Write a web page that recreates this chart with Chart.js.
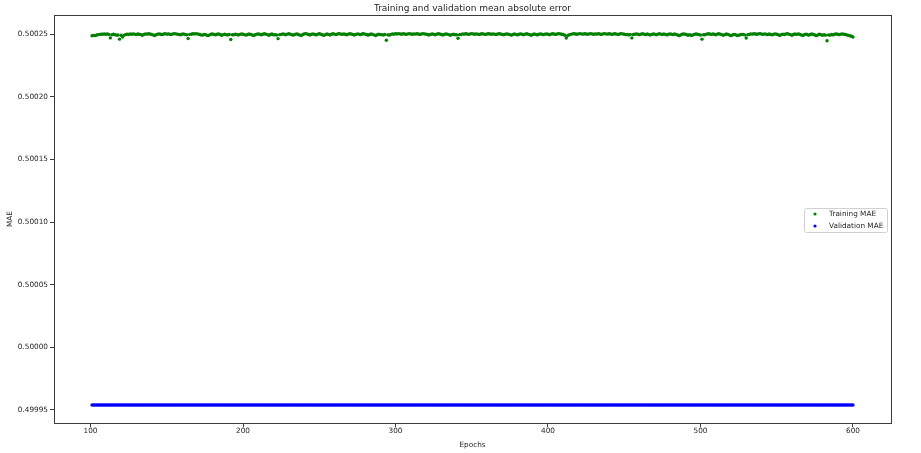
<!DOCTYPE html>
<html>
<head>
<meta charset="utf-8">
<script src="https://cdn.jsdelivr.net/npm/chart.js@4.4.0/dist/chart.umd.min.js"></script>
<style>
  html, body { margin: 0; padding: 0; background: #fff; }
  #wrap { width: 921px; height: 453px; position: relative; }
</style>
</head>
<body>
<div id="wrap"><canvas id="maeChart"></canvas></div>
<script>
// ---- data ----
const firstEpoch = 101;

const trainMae = [
  0.5002488, 0.5002491, 0.5002489, 0.5002494, 0.5002497, 0.5002499, 0.5002501, 0.5002500, 0.5002502, 0.5002500,
  0.5002503, 0.5002498, 0.5002471, 0.5002496, 0.5002500, 0.5002497, 0.5002493, 0.5002494, 0.5002461, 0.5002492,
  0.5002478, 0.5002493, 0.5002497, 0.5002501, 0.5002499, 0.5002502, 0.5002500, 0.5002503, 0.5002501, 0.5002498,
  0.5002502, 0.5002500, 0.5002497, 0.5002492, 0.5002499, 0.5002503, 0.5002501, 0.5002504, 0.5002502, 0.5002499,
  0.5002495, 0.5002490, 0.5002496, 0.5002501, 0.5002503, 0.5002500, 0.5002497, 0.5002502, 0.5002504, 0.5002501,
  0.5002503, 0.5002500, 0.5002498, 0.5002502, 0.5002505, 0.5002503, 0.5002501, 0.5002499, 0.5002496, 0.5002500,
  0.5002503, 0.5002498, 0.5002496, 0.5002466, 0.5002499, 0.5002500, 0.5002504, 0.5002502, 0.5002505, 0.5002503,
  0.5002500, 0.5002497, 0.5002493, 0.5002496, 0.5002499, 0.5002494, 0.5002489, 0.5002495, 0.5002500, 0.5002502,
  0.5002499, 0.5002495, 0.5002500, 0.5002503, 0.5002498, 0.5002492, 0.5002497, 0.5002501, 0.5002496, 0.5002495,
  0.5002498, 0.5002458, 0.5002496, 0.5002496, 0.5002501, 0.5002498, 0.5002494, 0.5002499, 0.5002503, 0.5002500,
  0.5002497, 0.5002493, 0.5002498, 0.5002502, 0.5002499, 0.5002494, 0.5002490, 0.5002496, 0.5002501, 0.5002503,
  0.5002500, 0.5002495, 0.5002500, 0.5002504, 0.5002501, 0.5002497, 0.5002492, 0.5002498, 0.5002502, 0.5002495,
  0.5002497, 0.5002494, 0.5002465, 0.5002497, 0.5002498, 0.5002503, 0.5002500, 0.5002496, 0.5002501, 0.5002504,
  0.5002501, 0.5002497, 0.5002493, 0.5002499, 0.5002503, 0.5002500, 0.5002495, 0.5002490, 0.5002496, 0.5002502,
  0.5002505, 0.5002502, 0.5002498, 0.5002494, 0.5002500, 0.5002503, 0.5002499, 0.5002495, 0.5002501, 0.5002504,
  0.5002500, 0.5002496, 0.5002491, 0.5002497, 0.5002502, 0.5002499, 0.5002494, 0.5002500, 0.5002504, 0.5002501,
  0.5002497, 0.5002502, 0.5002505, 0.5002502, 0.5002499, 0.5002503, 0.5002500, 0.5002496, 0.5002501, 0.5002504,
  0.5002502, 0.5002498, 0.5002494, 0.5002499, 0.5002503, 0.5002501, 0.5002497, 0.5002502, 0.5002504, 0.5002501,
  0.5002498, 0.5002493, 0.5002498, 0.5002502, 0.5002499, 0.5002495, 0.5002490, 0.5002496, 0.5002501, 0.5002497,
  0.5002497, 0.5002494, 0.5002498, 0.5002452, 0.5002496, 0.5002493, 0.5002499, 0.5002503, 0.5002501, 0.5002504,
  0.5002502, 0.5002505, 0.5002503, 0.5002500, 0.5002504, 0.5002502, 0.5002499, 0.5002503, 0.5002505, 0.5002502,
  0.5002500, 0.5002503, 0.5002501, 0.5002504, 0.5002502, 0.5002499, 0.5002502, 0.5002505, 0.5002503, 0.5002501,
  0.5002498, 0.5002494, 0.5002499, 0.5002503, 0.5002500, 0.5002496, 0.5002501, 0.5002504, 0.5002502, 0.5002498,
  0.5002494, 0.5002499, 0.5002503, 0.5002501, 0.5002497, 0.5002492, 0.5002497, 0.5002501, 0.5002496, 0.5002496,
  0.5002468, 0.5002497, 0.5002498, 0.5002503, 0.5002501, 0.5002504, 0.5002502, 0.5002499, 0.5002503, 0.5002505,
  0.5002502, 0.5002500, 0.5002503, 0.5002501, 0.5002498, 0.5002502, 0.5002504, 0.5002501, 0.5002499, 0.5002502,
  0.5002504, 0.5002502, 0.5002500, 0.5002503, 0.5002501, 0.5002498, 0.5002502, 0.5002504, 0.5002502, 0.5002499,
  0.5002496, 0.5002500, 0.5002503, 0.5002501, 0.5002497, 0.5002493, 0.5002498, 0.5002502, 0.5002499, 0.5002495,
  0.5002500, 0.5002503, 0.5002500, 0.5002496, 0.5002501, 0.5002504, 0.5002501, 0.5002497, 0.5002492, 0.5002498,
  0.5002502, 0.5002499, 0.5002495, 0.5002500, 0.5002503, 0.5002500, 0.5002497, 0.5002501, 0.5002503, 0.5002500,
  0.5002496, 0.5002501, 0.5002504, 0.5002502, 0.5002499, 0.5002502, 0.5002505, 0.5002503, 0.5002500, 0.5002499,
  0.5002492, 0.5002470, 0.5002490, 0.5002497, 0.5002499, 0.5002503, 0.5002505, 0.5002502, 0.5002500, 0.5002503,
  0.5002505, 0.5002503, 0.5002501, 0.5002504, 0.5002502, 0.5002500, 0.5002503, 0.5002505, 0.5002502, 0.5002500,
  0.5002503, 0.5002501, 0.5002504, 0.5002502, 0.5002499, 0.5002503, 0.5002505, 0.5002503, 0.5002501, 0.5002504,
  0.5002502, 0.5002499, 0.5002502, 0.5002504, 0.5002501, 0.5002498, 0.5002502, 0.5002505, 0.5002503, 0.5002500,
  0.5002497, 0.5002498, 0.5002495, 0.5002499, 0.5002471, 0.5002498, 0.5002500, 0.5002503, 0.5002500, 0.5002497,
  0.5002501, 0.5002504, 0.5002501, 0.5002497, 0.5002502, 0.5002499, 0.5002494, 0.5002499, 0.5002503, 0.5002500,
  0.5002496, 0.5002501, 0.5002504, 0.5002501, 0.5002498, 0.5002502, 0.5002499, 0.5002495, 0.5002500, 0.5002503,
  0.5002500, 0.5002497, 0.5002502, 0.5002499, 0.5002494, 0.5002489, 0.5002495, 0.5002500, 0.5002503, 0.5002500,
  0.5002496, 0.5002492, 0.5002497, 0.5002490, 0.5002494, 0.5002499, 0.5002503, 0.5002500, 0.5002497, 0.5002494,
  0.5002461, 0.5002496, 0.5002496, 0.5002501, 0.5002504, 0.5002502, 0.5002499, 0.5002503, 0.5002500, 0.5002496,
  0.5002501, 0.5002504, 0.5002501, 0.5002497, 0.5002492, 0.5002497, 0.5002502, 0.5002499, 0.5002494, 0.5002489,
  0.5002494, 0.5002499, 0.5002496, 0.5002490, 0.5002492, 0.5002496, 0.5002499, 0.5002499, 0.5002495, 0.5002470,
  0.5002497, 0.5002498, 0.5002503, 0.5002501, 0.5002504, 0.5002502, 0.5002500, 0.5002503, 0.5002505, 0.5002502,
  0.5002499, 0.5002503, 0.5002501, 0.5002497, 0.5002502, 0.5002499, 0.5002495, 0.5002500, 0.5002503, 0.5002500,
  0.5002496, 0.5002491, 0.5002497, 0.5002501, 0.5002498, 0.5002502, 0.5002504, 0.5002501, 0.5002497, 0.5002492,
  0.5002498, 0.5002502, 0.5002499, 0.5002503, 0.5002500, 0.5002495, 0.5002490, 0.5002496, 0.5002501, 0.5002498,
  0.5002493, 0.5002498, 0.5002502, 0.5002499, 0.5002494, 0.5002489, 0.5002495, 0.5002500, 0.5002497, 0.5002492,
  0.5002496, 0.5002493, 0.5002448, 0.5002495, 0.5002493, 0.5002498, 0.5002495, 0.5002500, 0.5002503, 0.5002500,
  0.5002497, 0.5002501, 0.5002503, 0.5002500, 0.5002498, 0.5002495, 0.5002491, 0.5002488, 0.5002484, 0.5002478
];

// validation MAE sits flat the whole run (epochs 101-600)
const valMae = [
  // 101-200
  0.499954, 0.499954, 0.499954, 0.499954, 0.499954, 0.499954, 0.499954, 0.499954, 0.499954, 0.499954,
  0.499954, 0.499954, 0.499954, 0.499954, 0.499954, 0.499954, 0.499954, 0.499954, 0.499954, 0.499954,
  0.499954, 0.499954, 0.499954, 0.499954, 0.499954, 0.499954, 0.499954, 0.499954, 0.499954, 0.499954,
  0.499954, 0.499954, 0.499954, 0.499954, 0.499954, 0.499954, 0.499954, 0.499954, 0.499954, 0.499954,
  0.499954, 0.499954, 0.499954, 0.499954, 0.499954, 0.499954, 0.499954, 0.499954, 0.499954, 0.499954,
  0.499954, 0.499954, 0.499954, 0.499954, 0.499954, 0.499954, 0.499954, 0.499954, 0.499954, 0.499954,
  0.499954, 0.499954, 0.499954, 0.499954, 0.499954, 0.499954, 0.499954, 0.499954, 0.499954, 0.499954,
  0.499954, 0.499954, 0.499954, 0.499954, 0.499954, 0.499954, 0.499954, 0.499954, 0.499954, 0.499954,
  0.499954, 0.499954, 0.499954, 0.499954, 0.499954, 0.499954, 0.499954, 0.499954, 0.499954, 0.499954,
  0.499954, 0.499954, 0.499954, 0.499954, 0.499954, 0.499954, 0.499954, 0.499954, 0.499954, 0.499954,
  // 201-300
  0.499954, 0.499954, 0.499954, 0.499954, 0.499954, 0.499954, 0.499954, 0.499954, 0.499954, 0.499954,
  0.499954, 0.499954, 0.499954, 0.499954, 0.499954, 0.499954, 0.499954, 0.499954, 0.499954, 0.499954,
  0.499954, 0.499954, 0.499954, 0.499954, 0.499954, 0.499954, 0.499954, 0.499954, 0.499954, 0.499954,
  0.499954, 0.499954, 0.499954, 0.499954, 0.499954, 0.499954, 0.499954, 0.499954, 0.499954, 0.499954,
  0.499954, 0.499954, 0.499954, 0.499954, 0.499954, 0.499954, 0.499954, 0.499954, 0.499954, 0.499954,
  0.499954, 0.499954, 0.499954, 0.499954, 0.499954, 0.499954, 0.499954, 0.499954, 0.499954, 0.499954,
  0.499954, 0.499954, 0.499954, 0.499954, 0.499954, 0.499954, 0.499954, 0.499954, 0.499954, 0.499954,
  0.499954, 0.499954, 0.499954, 0.499954, 0.499954, 0.499954, 0.499954, 0.499954, 0.499954, 0.499954,
  0.499954, 0.499954, 0.499954, 0.499954, 0.499954, 0.499954, 0.499954, 0.499954, 0.499954, 0.499954,
  0.499954, 0.499954, 0.499954, 0.499954, 0.499954, 0.499954, 0.499954, 0.499954, 0.499954, 0.499954,
  // 301-400
  0.499954, 0.499954, 0.499954, 0.499954, 0.499954, 0.499954, 0.499954, 0.499954, 0.499954, 0.499954,
  0.499954, 0.499954, 0.499954, 0.499954, 0.499954, 0.499954, 0.499954, 0.499954, 0.499954, 0.499954,
  0.499954, 0.499954, 0.499954, 0.499954, 0.499954, 0.499954, 0.499954, 0.499954, 0.499954, 0.499954,
  0.499954, 0.499954, 0.499954, 0.499954, 0.499954, 0.499954, 0.499954, 0.499954, 0.499954, 0.499954,
  0.499954, 0.499954, 0.499954, 0.499954, 0.499954, 0.499954, 0.499954, 0.499954, 0.499954, 0.499954,
  0.499954, 0.499954, 0.499954, 0.499954, 0.499954, 0.499954, 0.499954, 0.499954, 0.499954, 0.499954,
  0.499954, 0.499954, 0.499954, 0.499954, 0.499954, 0.499954, 0.499954, 0.499954, 0.499954, 0.499954,
  0.499954, 0.499954, 0.499954, 0.499954, 0.499954, 0.499954, 0.499954, 0.499954, 0.499954, 0.499954,
  0.499954, 0.499954, 0.499954, 0.499954, 0.499954, 0.499954, 0.499954, 0.499954, 0.499954, 0.499954,
  0.499954, 0.499954, 0.499954, 0.499954, 0.499954, 0.499954, 0.499954, 0.499954, 0.499954, 0.499954,
  // 401-500
  0.499954, 0.499954, 0.499954, 0.499954, 0.499954, 0.499954, 0.499954, 0.499954, 0.499954, 0.499954,
  0.499954, 0.499954, 0.499954, 0.499954, 0.499954, 0.499954, 0.499954, 0.499954, 0.499954, 0.499954,
  0.499954, 0.499954, 0.499954, 0.499954, 0.499954, 0.499954, 0.499954, 0.499954, 0.499954, 0.499954,
  0.499954, 0.499954, 0.499954, 0.499954, 0.499954, 0.499954, 0.499954, 0.499954, 0.499954, 0.499954,
  0.499954, 0.499954, 0.499954, 0.499954, 0.499954, 0.499954, 0.499954, 0.499954, 0.499954, 0.499954,
  0.499954, 0.499954, 0.499954, 0.499954, 0.499954, 0.499954, 0.499954, 0.499954, 0.499954, 0.499954,
  0.499954, 0.499954, 0.499954, 0.499954, 0.499954, 0.499954, 0.499954, 0.499954, 0.499954, 0.499954,
  0.499954, 0.499954, 0.499954, 0.499954, 0.499954, 0.499954, 0.499954, 0.499954, 0.499954, 0.499954,
  0.499954, 0.499954, 0.499954, 0.499954, 0.499954, 0.499954, 0.499954, 0.499954, 0.499954, 0.499954,
  0.499954, 0.499954, 0.499954, 0.499954, 0.499954, 0.499954, 0.499954, 0.499954, 0.499954, 0.499954,
  // 501-600
  0.499954, 0.499954, 0.499954, 0.499954, 0.499954, 0.499954, 0.499954, 0.499954, 0.499954, 0.499954,
  0.499954, 0.499954, 0.499954, 0.499954, 0.499954, 0.499954, 0.499954, 0.499954, 0.499954, 0.499954,
  0.499954, 0.499954, 0.499954, 0.499954, 0.499954, 0.499954, 0.499954, 0.499954, 0.499954, 0.499954,
  0.499954, 0.499954, 0.499954, 0.499954, 0.499954, 0.499954, 0.499954, 0.499954, 0.499954, 0.499954,
  0.499954, 0.499954, 0.499954, 0.499954, 0.499954, 0.499954, 0.499954, 0.499954, 0.499954, 0.499954,
  0.499954, 0.499954, 0.499954, 0.499954, 0.499954, 0.499954, 0.499954, 0.499954, 0.499954, 0.499954,
  0.499954, 0.499954, 0.499954, 0.499954, 0.499954, 0.499954, 0.499954, 0.499954, 0.499954, 0.499954,
  0.499954, 0.499954, 0.499954, 0.499954, 0.499954, 0.499954, 0.499954, 0.499954, 0.499954, 0.499954,
  0.499954, 0.499954, 0.499954, 0.499954, 0.499954, 0.499954, 0.499954, 0.499954, 0.499954, 0.499954,
  0.499954, 0.499954, 0.499954, 0.499954, 0.499954, 0.499954, 0.499954, 0.499954, 0.499954, 0.499954
];

const xTicks = [100, 200, 300, 400, 500, 600];
const yTicks = [0.49995, 0.50000, 0.50005, 0.50010, 0.50015, 0.50020, 0.50025];

const seriesNames = ['Training MAE', 'Validation MAE'];
const seriesColors = ['#008000', '#0000ff'];

// epoch numbers run alongside the values
const epochs = trainMae.map((_, i) => firstEpoch + i);

const FONT = '"DejaVu Sans", sans-serif';
const TXT = '#262626';

// box round the plot, title and legend drawn like matplotlib does
const framePlugin = {
  id: 'frame',
  afterDraw(chart) {
    const { ctx, chartArea: a } = chart;
    ctx.save();
    ctx.strokeStyle = '#3a3a3a';
    ctx.lineWidth = 1;
    ctx.strokeRect(Math.round(a.left) + 0.5, Math.round(a.top) + 0.5,
                   Math.round(a.right - a.left), Math.round(a.bottom - a.top));

    // titel
    ctx.fillStyle = TXT;
    ctx.font = '9px ' + FONT;
    ctx.textAlign = 'center';
    ctx.textBaseline = 'middle';
    ctx.fillText('Training and validation mean absolute error', (a.left + a.right) / 2, 8.5);

    // legenda
    const bx = 804, by = 208, bw = 83, bh = 24;
    ctx.fillStyle = 'rgba(255,255,255,0.8)';
    ctx.strokeStyle = '#d0d0d0';
    ctx.beginPath();
    ctx.roundRect(bx + 0.5, by + 0.5, bw, bh, 2);
    ctx.fill();
    ctx.stroke();
    ctx.font = '7.3px ' + FONT;
    ctx.textAlign = 'left';
    seriesNames.forEach((name, i) => {
      const y = by + 6 + i * 12;
      ctx.fillStyle = seriesColors[i];
      ctx.beginPath();
      ctx.arc(bx + 11, y, 1.6, 0, Math.PI * 2);
      ctx.fill();
      ctx.fillStyle = TXT;
      ctx.fillText(name, bx + 25, y);
    });
    ctx.restore();
  }
};

new Chart(document.getElementById('maeChart'), {
  type: 'scatter',
  data: {
    datasets: [
      {
        label: seriesNames[0],
        data: epochs.map((e, i) => ({ x: e, y: trainMae[i] })),
        backgroundColor: seriesColors[0],
        pointRadius: 1.7,
        pointBorderWidth: 0
      },
      {
        label: seriesNames[1],
        data: epochs.map((e, i) => ({ x: e, y: valMae[i] })),
        backgroundColor: seriesColors[1],
        pointRadius: 1.7,
        pointBorderWidth: 0
      }
    ]
  },
  options: {
    responsive: true,
    maintainAspectRatio: false,
    animation: false,
    layout: { padding: { top: 15, right: 30, bottom: 0, left: 0 } },
    plugins: {
      legend: { display: false },
      title: { display: false },
      tooltip: { enabled: false }
    },
    scales: {
      x: {
        type: 'linear',
        min: 76.05,
        max: 624.95,
        afterFit: s => { s.height = 30; },
        afterBuildTicks: s => { s.ticks = xTicks.map(v => ({ value: v })); },
        border: { display: false },
        grid: { drawOnChartArea: false, drawTicks: true, tickLength: 4, color: '#3a3a3a' },
        ticks: { padding: 0, color: TXT, font: { family: FONT, size: 7.3 }, maxRotation: 0 },
        title: { display: true, text: 'Epochs', color: TXT, font: { family: FONT, size: 7.3 }, padding: { top: 0, bottom: 4 } }
      },
      y: {
        min: 0.4999396,
        max: 0.5002654,
        afterFit: s => { s.width = 54; },
        afterBuildTicks: s => { s.ticks = yTicks.map(v => ({ value: v })); },
        border: { display: false },
        grid: { drawOnChartArea: false, drawTicks: true, tickLength: 4, color: '#3a3a3a' },
        ticks: {
          padding: 2,
          color: TXT,
          font: { family: FONT, size: 7.3 },
          callback: v => v.toFixed(5)
        },
        title: { display: true, text: 'MAE', color: TXT, font: { family: FONT, size: 7.3 }, padding: { top: 6, bottom: 0 } }
      }
    }
  },
  plugins: [framePlugin]
});
</script>
</body>
</html>
